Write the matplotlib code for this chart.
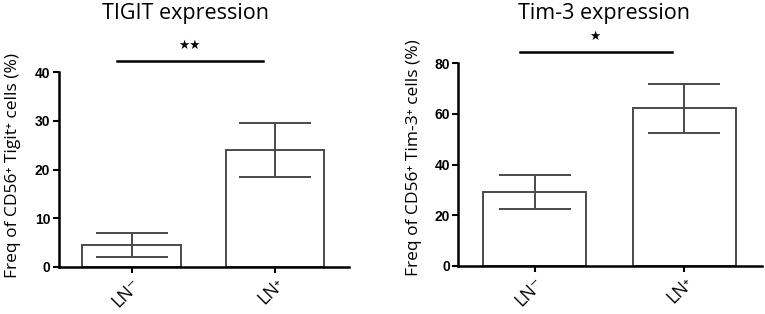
import numpy as np
import matplotlib.pyplot as plt

# data
groups = ["LN\u207b", "LN\u207a"]
tigit_mean = [4.5, 24.0]
tigit_sem = [2.4, 5.5]
tim3_mean = [29.2, 62.3]
tim3_sem = [6.8, 9.7]

fig = plt.figure(figsize=(7.65, 3.14), dpi=100)
fam = ["Open Sans", "DejaVu Sans"]
gray = "#4a4a4a"


def panel(ax, means, errs, ymax, ystep, ylabel, labpos, stars, liney, stary):
    x = np.arange(len(means))
    ax.bar(x, means, width=0.69, color="white", edgecolor=gray, linewidth=1.4)
    ax.errorbar(x, means, yerr=errs, fmt="none", ecolor=gray, elinewidth=1.4,
                capsize=26, capthick=1.4)
    ax.set_xlim(-0.51, 1.52)
    ax.set_ylim(0, ymax)
    ax.set_yticks(np.arange(0, ymax + 1, ystep))
    ax.set_xticks(x)
    ax.set_xticklabels(groups, rotation=45, ha="right", rotation_mode="anchor",
                       family=fam, fontsize=13)
    for lab in ax.get_yticklabels():
        lab.set_family(["Liberation Sans", "DejaVu Sans"])
        lab.set_fontweight("bold")
        lab.set_fontsize(10)
    for s in ["top", "right"]:
        ax.spines[s].set_visible(False)
    for s in ["left", "bottom"]:
        ax.spines[s].set_linewidth(1.8)
    ax.tick_params(width=1.5, length=4, direction="out", pad=2)
    ax.set_ylabel(ylabel, family=fam, fontsize=12.5)
    ax.yaxis.set_label_coords(*labpos)
    # significance bar
    ax.plot([-0.1, 0.92], [liney, liney], color="black", lw=1.8, clip_on=False)
    ax.text(0.40, stary, stars, ha="center", va="center", fontsize=9,
            family="DejaVu Sans")
    return ax


ax1 = fig.add_axes([0.0767, 0.1506, 0.380, 0.619])
panel(ax1, tigit_mean, tigit_sem, 40, 10,
      "Freq of CD56\u207a Tigit\u207a cells (%)", (-0.13, 0.523),
      "\u2605\u2605", 42.3, 45.6)

ax2 = fig.add_axes([0.599, 0.1538, 0.397, 0.6446])
panel(ax2, tim3_mean, tim3_sem, 80, 20,
      "Freq of CD56\u207a Tim-3\u207a cells (%)", (-0.12, 0.532),
      "\u2605", 84.3, 90.5)

fig.text(185 / 765, 1 - 13 / 314, "TIGIT expression", ha="center", va="center",
         family=fam, fontsize=15.5)
fig.text(604 / 765, 1 - 13 / 314, "Tim-3 expression", ha="center", va="center",
         family=fam, fontsize=15.5)

fig.savefig("out.png", dpi=100)
